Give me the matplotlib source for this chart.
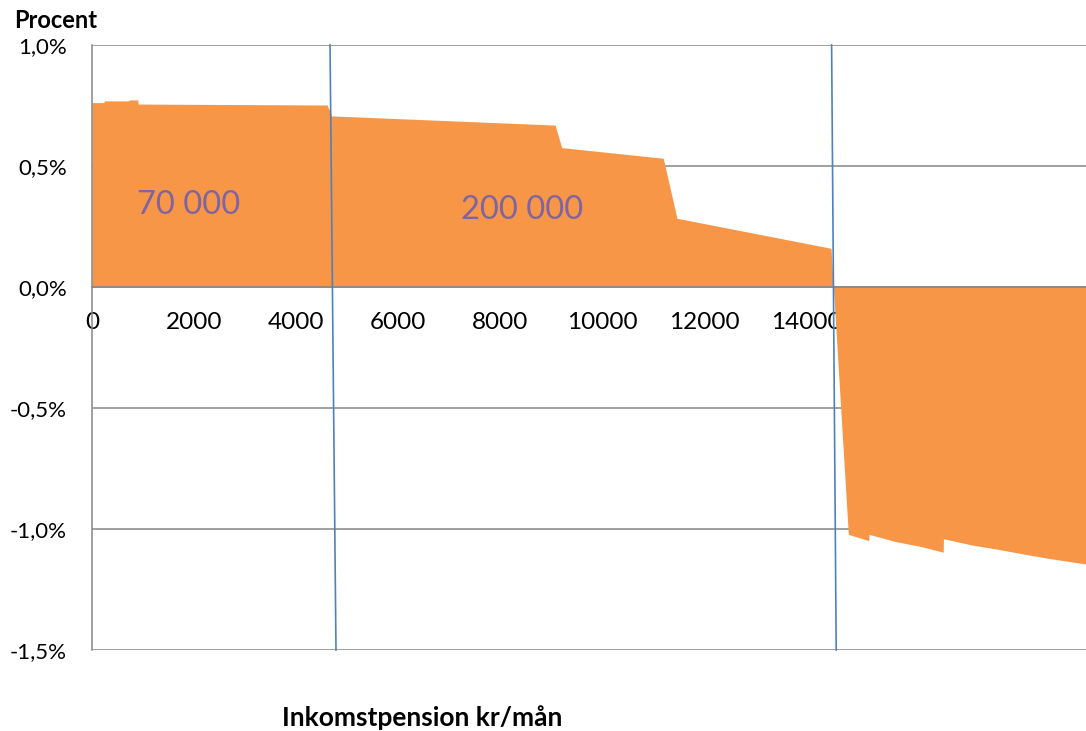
import matplotlib.pyplot as plt
from matplotlib.ticker import FuncFormatter

plt.rcParams['font.family'] = ['Lato', 'DejaVu Sans']

# inkomstpension (kr/mån) and change in percent
inkomst = [0, 235, 240, 725, 730, 900, 905, 4610, 4700, 9080, 9210, 11200, 11470, 14490,
           14830, 15230, 15235, 15760, 16270, 16690, 16695, 17250, 17770, 18255, 18745, 19275, 19500]
procent = [0.762, 0.762, 0.769, 0.769, 0.773, 0.773, 0.756, 0.752, 0.707, 0.669, 0.576, 0.532, 0.284, 0.160,
           -1.022, -1.048, -1.022, -1.052, -1.073, -1.096, -1.040, -1.066, -1.084, -1.103, -1.121, -1.138, -1.145]

# the two (slightly slanted) boundary lines
grans1_x = [4667, 4784]
grans2_x = [14502, 14592]
grans_y = [1.0, -1.5]

etiketter = ['70 000', '200 000']
etikett_x = [1900, 8430]
etikett_y = [0.34, 0.32]

x_ticks = [0, 2000, 4000, 6000, 8000, 10000, 12000, 14000, 16000, 18000]
y_ticks = [1.0, 0.5, 0.0, -0.5, -1.0, -1.5]

W, H = 1086, 731
fig = plt.figure(figsize=(W / 100, H / 100), dpi=100)
ax = fig.add_axes([92 / W, (H - 650) / H, (W - 92) / W, 605 / H])

orange = '#F79646'
blue = '#4F81BD'
grey = '#868686'

ax.fill_between(inkomst, procent, 0, color=orange, linewidth=0, zorder=2)
ax.plot(grans1_x, grans_y, color=blue, lw=1.2, zorder=4, clip_on=False)
ax.plot(grans2_x, grans_y, color=blue, lw=1.2, zorder=4, clip_on=False)

for txt, x, y in zip(etiketter, etikett_x, etikett_y):
    ax.text(x, y, txt, color='#8064A2', fontsize=23.5, ha='center', va='center', zorder=3)

ax.set_xlim(0, 19490)
ax.set_ylim(-1.5, 1.0)
ax.set_xticks(x_ticks)
ax.set_yticks(y_ticks)
ax.yaxis.set_major_formatter(FuncFormatter(lambda v, p: f'{v:.1f}%'.replace('.', ',')))

ax.grid(axis='y', color=grey, lw=1.1, zorder=0)
ax.set_axisbelow(True)
for s in ['top', 'right']:
    ax.spines[s].set_visible(False)
ax.spines['left'].set_color(grey)
ax.spines['left'].set_linewidth(1.1)
ax.spines['bottom'].set_position(('data', 0))
ax.spines['bottom'].set_color(grey)
ax.spines['bottom'].set_linewidth(1.1)
ax.spines['bottom'].set_zorder(3)

ax.tick_params(axis='x', length=0, pad=18, labelsize=17.5)
ax.tick_params(axis='y', length=0, pad=18, labelsize=16)
for lab in ax.get_xticklabels():
    lab.set_zorder(5)

fig.text(14 / W, 1 - 20 / H, 'Procent', fontsize=17, fontweight='bold', va='center', ha='left')
fig.text(422 / W, 1 - 718 / H, 'Inkomstpension kr/mån', fontsize=19, fontweight='bold',
         va='center', ha='center')

fig.savefig('out.png', dpi=100)
